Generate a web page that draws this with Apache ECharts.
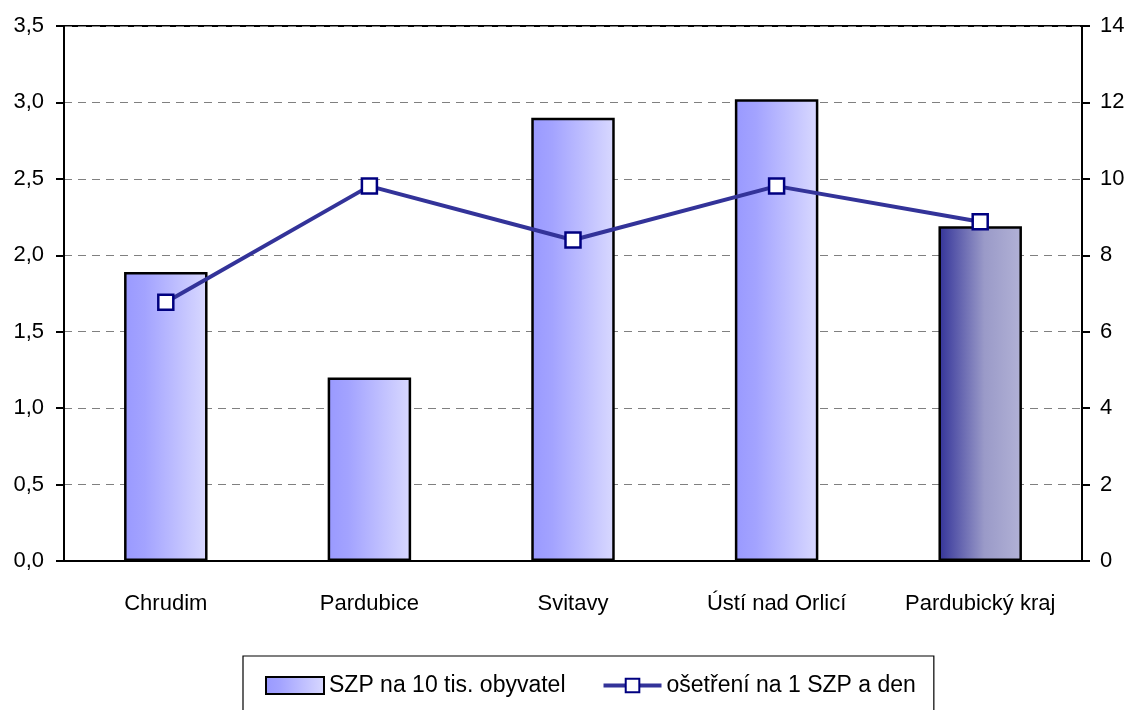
<!DOCTYPE html>
<html>
<head>
    <meta charset="UTF-8">
    <title>SZP</title>
    <script type="text/javascript" src="https://cdn.jsdelivr.net/npm/echarts@6/dist/echarts.min.js"></script>
    <style>
        body { margin: 0; background: #fff; }
        #chart { width: 1133px; height: 710px; }
    </style>
</head>
<body>
<div id="chart"></div>
<script>
    var categories = ["Chrudim", "Pardubice", "Svitavy", "Ústí nad Orlicí", "Pardubický kraj"];
    var szpValues = [1.89, 1.20, 2.90, 3.02, 2.19];
    var osetreniValues = [6.77, 9.81, 8.40, 9.81, 8.88];
    var leftTicks = { min: 0, max: 3.5, interval: 0.5 };
    var rightTicks = { min: 0, max: 14, interval: 2 };

    var font = "'Liberation Sans', Arial, sans-serif";
    var fs = 22;

    function grad(stops) {
        return new echarts.graphic.LinearGradient(0, 0, 1, 0, stops);
    }
    var lightBar = grad([
        { offset: 0, color: '#9999ff' },
        { offset: 0.25, color: '#a3a3ff' },
        { offset: 1, color: '#d9d9ff' }
    ]);
    var darkBar = grad([
        { offset: 0, color: '#333399' },
        { offset: 0.55, color: '#9a9ac8' },
        { offset: 1, color: '#b2b2d6' }
    ]);

    var barData = szpValues.map(function (v, i) {
        var item = { value: v };
        if (i == szpValues.length - 1) {
            item.itemStyle = { color: darkBar };
        }
        return item;
    });

    var chart = echarts.init(document.getElementById("chart"));
    chart.setOption({
        animation: false,
        textStyle: { fontFamily: font },
        grid: {
            left: 64, right: 51, top: 26, bottom: 149,
            show: true, borderColor: '#000', borderWidth: 2
        },
        legend: {
            left: 243, top: 656,
            padding: [18, 18, 40, 22],
            borderColor: '#000', borderWidth: 1.2,
            itemGap: 36,
            itemWidth: 58, itemHeight: 17,
            textStyle: { fontSize: 23, color: '#000', fontFamily: font },
            data: [
                { name: "SZP na 10 tis. obyvatel", icon: 'rect', itemStyle: { borderColor: '#000', borderWidth: 2 } },
                { name: "ošetření na 1 SZP a den", lineStyle: { width: 4, color: '#333399' } }
            ]
        },
        xAxis: {
            type: 'category',
            data: categories,
            axisLine: { lineStyle: { color: '#000', width: 2 } },
            axisTick: { length: 8, lineStyle: { color: '#000', width: 2 } },
            axisLabel: { fontSize: fs, color: '#000', margin: 32, interval: 0 }
        },
        yAxis: [{
            type: 'value',
            min: leftTicks.min, max: leftTicks.max, interval: leftTicks.interval,
            axisLine: { show: true, lineStyle: { color: '#000', width: 2 } },
            axisTick: { show: true, length: 8, lineStyle: { color: '#000', width: 2 } },
            axisLabel: {
                fontSize: fs, color: '#000', margin: 20,
                formatter: function (v) { return v.toFixed(1).replace('.', ','); }
            },
            splitLine: { lineStyle: { color: '#808080', type: [8, 6], width: 1 } }
        }, {
            type: 'value',
            min: rightTicks.min, max: rightTicks.max, interval: rightTicks.interval,
            axisLine: { show: true, lineStyle: { color: '#000', width: 2 } },
            axisTick: { show: true, length: 8, lineStyle: { color: '#000', width: 2 } },
            axisLabel: { fontSize: fs, color: '#000', margin: 18 },
            splitLine: { show: false }
        }],
        series: [{
            name: "SZP na 10 tis. obyvatel",
            type: 'bar',
            barWidth: '41%',
            yAxisIndex: 0,
            itemStyle: { color: lightBar, borderColor: '#000', borderWidth: 2.5 },
            data: barData
        }, {
            name: "ošetření na 1 SZP a den",
            type: 'line',
            yAxisIndex: 1,
            symbol: 'rect',
            symbolSize: 15,
            lineStyle: { color: '#333399', width: 4 },
            itemStyle: { color: '#fff', borderColor: '#000080', borderWidth: 2.5 },
            data: osetreniValues,
            z: 5
        }]
    });
</script>
</body>
</html>
